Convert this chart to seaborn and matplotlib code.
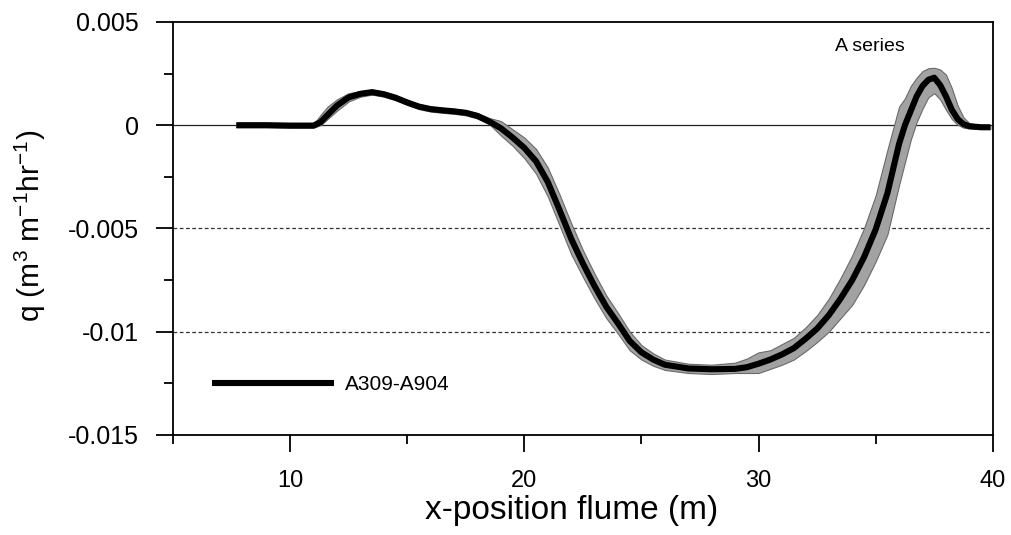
import matplotlib
matplotlib.use("Agg")
import matplotlib.pyplot as plt
import seaborn as sns
import numpy as np
from matplotlib.ticker import FixedLocator

# ---- data ----
x_pos = [7.7, 9.0, 10.0, 11.0, 11.3, 11.6, 12.0, 12.5, 13.0, 13.5, 14.0, 14.5,
         15.0, 15.5, 16.0, 16.5, 17.0, 17.5, 18.0, 18.5, 19.0, 19.5, 20.0,
         20.5, 21.0, 21.5, 22.0, 22.5, 23.0, 23.5, 24.0, 24.5, 25.0, 25.5,
         26.0, 27.0, 28.0, 29.0, 29.5, 30.0, 30.5, 31.0, 31.5, 32.0, 32.5,
         33.0, 33.5, 34.0, 34.5, 35.0, 35.5, 36.0, 36.25, 36.5, 36.75, 37.0,
         37.25, 37.5, 37.75, 38.0, 38.25, 38.5, 38.75, 39.0, 39.5, 39.9]

# mean transport rate q (x 0.001 m3 m-1 hr-1)
q_mean = [0.0, 0.0, -0.02, -0.02, 0.15, 0.5, 0.95, 1.35, 1.52, 1.6, 1.5, 1.33,
          1.1, 0.9, 0.78, 0.72, 0.67, 0.6, 0.45, 0.18, -0.15, -0.6, -1.1,
          -1.75, -2.75, -4.1, -5.5, -6.7, -7.8, -8.8, -9.6, -10.45, -11.0, -11.35,
          -11.6, -11.78, -11.82, -11.8, -11.72, -11.55, -11.35, -11.1, -10.8, -10.35, -9.85,
          -9.2, -8.4, -7.5, -6.4, -5.05, -3.3, -0.9, 0.0, 0.7, 1.4, 1.9,
          2.2, 2.3, 1.95, 1.4, 0.75, 0.3, 0.05, -0.05, -0.1, -0.1]

# upper / lower envelope of the runs (x 0.001)
q_upper = [0.1, 0.1, 0.08, 0.06, 0.5, 0.9, 1.25, 1.55, 1.65, 1.72, 1.62, 1.45,
           1.22, 1.02, 0.9, 0.84, 0.79, 0.72, 0.58, 0.35, 0.2, -0.2, -0.6,
           -1.15, -2.05, -3.35, -4.75, -6.05, -7.2, -8.25, -9.1, -10.0, -10.65, -11.05,
           -11.35, -11.55, -11.6, -11.5, -11.3, -11.0, -10.9, -10.6, -10.3, -9.8, -9.2,
           -8.4, -7.4, -6.3, -5.0, -3.4, -1.2, 0.9, 1.3, 1.9, 2.3, 2.62,
           2.76, 2.78, 2.7, 2.45, 1.8, 0.95, 0.38, 0.1, -0.03, -0.03]

q_lower = [-0.1, -0.1, -0.12, -0.12, 0.0, 0.3, 0.7, 1.15, 1.38, 1.48, 1.38, 1.21,
           0.98, 0.78, 0.66, 0.6, 0.55, 0.48, 0.32, 0.05, -0.5, -1.0, -1.6,
           -2.35, -3.45, -4.85, -6.25, -7.35, -8.4, -9.35, -10.1, -10.9, -11.35, -11.65,
           -11.85, -12.0, -12.05, -12.0, -12.0, -12.0, -11.8, -11.6, -11.35, -10.95, -10.5,
           -10.0, -9.35, -8.7, -7.75, -6.6, -5.3, -2.9, -1.8, -0.7, 0.15, 0.8,
           1.35, 1.55, 1.25, 0.75, 0.3, 0.02, -0.12, -0.16, -0.17, -0.17]

series_label = "A309-A904"
panel_label = "A series"
x_label = "x-position flume (m)"
y_label = r"q (m$^3$ m$^{-1}$hr$^{-1}$)"
x_ticks = [10, 20, 30, 40]
x_minor = [5, 15, 25, 35]
y_ticks = [0.005, 0.0, -0.005, -0.01, -0.015]
y_ticklabels = ["0.005", "0", "-0.005", "-0.01", "-0.015"]
y_minor = [0.0025, -0.0025, -0.0075, -0.0125]
grid_levels = [-0.005, -0.01]

# ---- plotting ----
sns.set_theme(style="ticks")
plt.rcParams["font.family"] = ["Liberation Sans", "DejaVu Sans"]
plt.rcParams["mathtext.fontset"] = "custom"
plt.rcParams["mathtext.rm"] = "Liberation Sans"
plt.rcParams["mathtext.it"] = "Liberation Sans"
plt.rcParams["text.color"] = "black"
plt.rcParams["axes.labelcolor"] = "black"
plt.rcParams["xtick.color"] = "black"
plt.rcParams["ytick.color"] = "black"

fig = plt.figure(figsize=(10.12, 5.35), dpi=100)
ax = fig.add_axes([0.171, 0.187, 0.81, 0.772])

xs = np.array(x_pos)
qm = np.array(q_mean) * 1e-3
qu = np.array(q_upper) * 1e-3
ql = np.array(q_lower) * 1e-3

# reference lines
ax.axhline(0.0, color="#222222", lw=0.9, zorder=1)
for g in grid_levels:
    ax.axhline(g, color="#333333", lw=0.9, ls=(0, (3, 2)), zorder=1)

# envelope band
ax.fill_between(xs, ql, qu, color="#a2a2a2", edgecolor="#6a6a6a",
                linewidth=0.8, zorder=2)

# mean line
sns.lineplot(x=xs, y=qm, color="black", lw=4.4, ax=ax, label=series_label,
             zorder=3, sort=False, solid_capstyle="butt")

ax.set_xlim(5, 40)
ax.set_ylim(-0.015, 0.005)
ax.xaxis.set_major_locator(FixedLocator(x_ticks))
ax.xaxis.set_minor_locator(FixedLocator(x_minor))
ax.yaxis.set_major_locator(FixedLocator(y_ticks))
ax.set_yticklabels(y_ticklabels)
ax.yaxis.set_minor_locator(FixedLocator(y_minor))

ax.tick_params(axis="both", which="major", direction="out", length=12.5,
               width=1.3, color="black", labelcolor="black")
ax.tick_params(axis="x", which="major", pad=13, labelsize=17)
ax.tick_params(axis="y", which="major", pad=12, labelsize=18)
ax.tick_params(axis="both", which="minor", direction="out", length=6.5,
               width=1.3, color="black")

for s in ax.spines.values():
    s.set_visible(True)
    s.set_color("black")
    s.set_linewidth(1.3)

ax.set_xlabel(x_label, fontsize=24)
ax.xaxis.set_label_coords(0.486, -0.145)
ax.set_ylabel(y_label, fontsize=21.5)
ax.yaxis.set_label_coords(-0.152, 0.505)

ax.text(0.807, 0.96, panel_label, transform=ax.transAxes, fontsize=14,
        ha="left", va="top")

leg = ax.legend(loc="lower left", bbox_to_anchor=(0.048, 0.098), frameon=False,
                fontsize=15, handlelength=5.85, handletextpad=0.5,
                borderaxespad=0, borderpad=0)
for h in leg.get_lines():
    h.set_linewidth(4.4)

fig.savefig("out.png", dpi=100)
